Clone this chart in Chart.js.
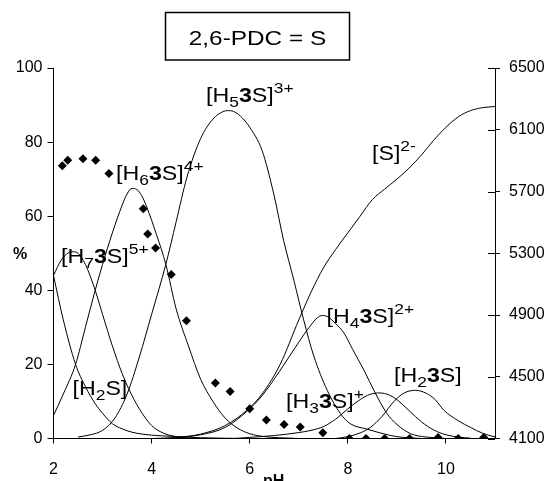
<!DOCTYPE html>
<html>
<head>
<meta charset="utf-8">
<script src="https://cdn.jsdelivr.net/npm/chart.js@4"></script>
<style>
  body { margin: 0; background: #fff; }
</style>
</head>
<body>
<canvas id="chart" width="549" height="481"></canvas>
<script>
// tick labels
const xTicks = [2, 4, 6, 8, 10];
const yTicks = [0, 20, 40, 60, 80, 100];
const y2Ticks = [4100, 4500, 4900, 5300, 5700, 6100, 6500];

// species distribution curves (% vs pH)
const h2sPH  = [2.0, 2.2, 2.45, 2.65, 2.85, 3.0, 3.2, 3.4, 3.6, 3.8, 4.0, 4.4, 5.0, 6.0];
const h2sPct = [44, 32, 20, 14, 9.4, 6.8, 4, 2.6, 1.7, 1.2, 0.9, 0.6, 0.2, 0];

const h7PH  = [2.0, 2.15, 2.3, 2.4, 2.5, 2.65, 2.85, 3.0, 3.2, 3.4, 3.53, 3.75, 4.0, 4.25, 4.5, 4.8, 5.5];
const h7Pct = [44, 48, 50.1, 50.4, 50, 47, 40, 33.5, 25, 17.5, 13.5, 8, 3.5, 1.4, 0.5, 0.1, 0];

const h6PH  = [2.0, 2.2, 2.45, 2.65, 2.85, 3.0, 3.2, 3.4, 3.5, 3.6, 3.7, 3.8, 3.9, 4.1, 4.29, 4.5, 4.75, 5.0, 5.25, 5.5, 5.75, 6.0, 6.3, 6.6, 7.0];
const h6Pct = [6.2, 12, 20, 30, 40, 47, 55.5, 63, 66, 67.5, 67.2, 65.5, 62.5, 55, 47, 35, 25, 16, 10, 5.5, 2.8, 1.3, 0.5, 0.2, 0];

const h5PH  = [2.5, 2.75, 3.0, 3.25, 3.5, 3.75, 4.0, 4.29, 4.5, 4.72, 5.0, 5.25, 5.45, 5.57, 5.7, 5.85, 6.0, 6.25, 6.49, 6.69, 6.9, 7.1, 7.3, 7.58, 7.85, 8.05, 8.4, 8.75, 9.0, 9.5];
const h5Pct = [0.4, 1, 2.2, 5.5, 12, 22, 33.5, 47, 58.5, 70.5, 81, 86.2, 88.2, 88.5, 88.1, 86.5, 84, 77.8, 66, 53.5, 42.7, 32, 22.5, 13, 6.7, 4, 2.5, 1.2, 0.5, 0];

const h4PH  = [4.5, 5.0, 5.5, 5.94, 6.25, 6.6, 7.0, 7.2, 7.38, 7.48, 7.6, 7.75, 7.92, 8.1, 8.33, 8.55, 8.8, 9.0, 9.28, 9.6, 10.0];
const h4Pct = [0.2, 1, 3, 7.3, 11.5, 18, 26, 29.8, 32.6, 33.2, 32.8, 31, 28.5, 24, 18.4, 12.5, 6.7, 3.8, 1.3, 0.4, 0];

const h3PH  = [5.7, 6.0, 6.5, 7.0, 7.25, 7.5, 7.75, 8.0, 8.25, 8.45, 8.65, 8.85, 9.0, 9.25, 9.5, 9.75, 10.0, 10.25, 10.5];
const h3Pct = [0, 0.3, 0.8, 1.6, 2.2, 3.2, 5.2, 8, 10.5, 11.9, 12.3, 11.7, 10.5, 7.5, 4.5, 2.3, 1, 0.4, 0.1];

const h2PH  = [7.75, 8.0, 8.25, 8.46, 8.7, 8.94, 9.15, 9.38, 9.6, 9.78, 9.96, 10.25, 10.5, 10.75, 11.0];
const h2Pct = [0, 0.5, 1.5, 3, 6, 10, 12.3, 13, 12.2, 10.5, 7.6, 4.8, 3, 1.4, 0.4];

const sPH  = [4.0, 4.5, 5.0, 5.5, 5.94, 6.25, 6.62, 7.0, 7.25, 7.5, 7.75, 8.0, 8.25, 8.5, 8.75, 9.0, 9.25, 9.5, 9.75, 10.0, 10.25, 10.5, 10.75, 11.0];
const sPct = [0, 0.3, 1.2, 3.5, 7.6, 12, 20, 32, 39.5, 46, 51, 55.5, 60, 64.5, 67.3, 70, 73, 76.5, 80.5, 84, 86.8, 88.5, 89.3, 89.6];

// measured points (right axis)
const expPH  = [2.18, 2.29, 2.60, 2.86, 3.13, 3.83, 3.92, 4.08, 4.40, 4.71, 5.30, 5.60, 6.00, 6.34, 6.70, 7.03, 7.49, 8.03, 8.37, 8.75, 9.26, 9.84, 10.25, 10.77];
const expVal = [5866, 5902, 5912, 5902, 5816, 5588, 5425, 5334, 5163, 4863, 4460, 4405, 4292, 4220, 4191, 4174, 4138, 4100, 4100, 4100, 4100, 4107, 4100, 4107];

function pts(xs, ys) {
    return xs.map((x, i) => ({x: x, y: ys[i]}));
}

function curve(xs, ys) {
    return {
        data: pts(xs, ys),
        showLine: true,
        borderColor: '#000',
        borderWidth: 1,
        pointRadius: 0,
        cubicInterpolationMode: 'monotone',
        yAxisID: 'y'
    };
}

const FONT = '"Liberation Sans", Arial, sans-serif';
const SX = 1.16;

// draws text pieces with sub/superscripts and bold parts
function drawRich(ctx, x, y, parts) {
    ctx.save();
    ctx.translate(x, y);
    ctx.scale(SX, 1);
    ctx.fillStyle = '#000';
    ctx.textBaseline = 'alphabetic';
    ctx.textAlign = 'left';
    let cx = 0;
    for (const p of parts) {
        let size = 20, dy = 0;
        if (p.sub) { size = 15; dy = 5; }
        if (p.sup) { size = 15; dy = -9; }
        ctx.font = (p.b ? 'bold ' : '') + size + 'px ' + FONT;
        ctx.fillText(p.t, cx, dy);
        cx += ctx.measureText(p.t).width;
    }
    ctx.restore();
}

const decor = {
    id: 'decor',
    afterDraw(chart) {
        const ctx = chart.ctx;
        // title box
        ctx.save();
        ctx.strokeStyle = '#000';
        ctx.lineWidth = 1.5;
        ctx.strokeRect(165.5, 12.5, 184, 47.5);
        ctx.restore();
        ctx.save();
        ctx.translate(257.5, 45);
        ctx.scale(SX, 1);
        ctx.font = '21px ' + FONT;
        ctx.textAlign = 'center';
        ctx.fillStyle = '#000';
        ctx.fillText('2,6-PDC = S', 0, 0);
        ctx.restore();

        // axis titles
        ctx.save();
        ctx.fillStyle = '#000';
        ctx.font = 'bold 16px ' + FONT;
        ctx.textAlign = 'center';
        ctx.fillText('%', 20, 259);
        ctx.textAlign = 'left';
        ctx.fillText('pH', 263, 486);
        ctx.restore();

        // right axis ticks cross the axis
        const y2 = chart.scales.y2;
        ctx.save();
        ctx.strokeStyle = '#000';
        ctx.lineWidth = 1;
        for (const v of y2Ticks) {
            const py = Math.round(y2.getPixelForValue(v)) + 0.5;
            ctx.beginPath();
            ctx.moveTo(y2.left - 7, py);
            ctx.lineTo(y2.left, py);
            ctx.stroke();
        }
        ctx.restore();

        // species labels
        drawRich(ctx, 206, 102, [{t: '[H'}, {t: '5', sub: 1}, {t: '3', b: 1}, {t: 'S]'}, {t: '3+', sup: 1}]);
        drawRich(ctx, 372, 160, [{t: '[S]'}, {t: '2-', sup: 1}]);
        drawRich(ctx, 116, 180, [{t: '[H'}, {t: '6', sub: 1}, {t: '3', b: 1}, {t: 'S]'}, {t: '4+', sup: 1}]);
        drawRich(ctx, 61, 263, [{t: '[H'}, {t: '7', sub: 1}, {t: '3', b: 1}, {t: 'S]'}, {t: '5+', sup: 1}]);
        drawRich(ctx, 72.5, 395, [{t: '[H'}, {t: '2', sub: 1}, {t: 'S]'}]);
        drawRich(ctx, 326.5, 323, [{t: '[H'}, {t: '4', sub: 1}, {t: '3', b: 1}, {t: 'S]'}, {t: '2+', sup: 1}]);
        drawRich(ctx, 286, 408, [{t: '[H'}, {t: '3', sub: 1}, {t: '3', b: 1}, {t: 'S]'}, {t: '+', sup: 1}]);
        drawRich(ctx, 394, 382, [{t: '[H'}, {t: '2', sub: 1}, {t: '3', b: 1}, {t: 'S]'}]);
    }
};

function setTicks(list) {
    return function (scale) {
        scale.ticks = list.map(v => ({value: v}));
    };
}

const tickFont = {family: FONT, size: 16};
const plain = v => String(v);

const ctx = document.getElementById('chart').getContext('2d');
const chart = new Chart(ctx, {
    type: 'scatter',
    data: {
        datasets: [
            curve(h2sPH, h2sPct),
            curve(h7PH, h7Pct),
            curve(h6PH, h6Pct),
            curve(h5PH, h5Pct),
            curve(h4PH, h4Pct),
            curve(h3PH, h3Pct),
            curve(h2PH, h2Pct),
            curve(sPH, sPct),
            {
                data: pts(expPH, expVal),
                showLine: false,
                pointStyle: 'rectRot',
                pointRadius: 4.5,
                pointBackgroundColor: '#000',
                pointBorderColor: '#000',
                pointBorderWidth: 0,
                yAxisID: 'y2'
            }
        ]
    },
    options: {
        responsive: false,
        animation: false,
        devicePixelRatio: 1,
        layout: {padding: {top: 68, left: 0, right: 0, bottom: 0}},
        plugins: {
            legend: {display: false},
            tooltip: {enabled: false}
        },
        scales: {
            x: {
                type: 'linear',
                min: 2,
                max: 11,
                afterBuildTicks: setTicks(xTicks),
                afterFit: s => { s.height = 42.5; },
                ticks: {font: tickFont, color: '#000', padding: 16, maxRotation: 0, callback: plain},
                grid: {drawOnChartArea: false, drawTicks: true, tickLength: 5, color: '#000'},
                border: {display: true, color: '#000', width: 1}
            },
            y: {
                position: 'left',
                min: 0,
                max: 100,
                afterBuildTicks: setTicks(yTicks),
                afterFit: s => { s.width = 53.5; },
                ticks: {font: tickFont, color: '#000', padding: 5, callback: plain},
                grid: {drawOnChartArea: false, drawTicks: true, tickLength: 6, color: '#000'},
                border: {display: true, color: '#000', width: 1}
            },
            y2: {
                position: 'right',
                min: 4100,
                max: 6500,
                afterBuildTicks: setTicks(y2Ticks),
                afterFit: s => { s.width = 54; },
                ticks: {font: tickFont, color: '#000', padding: 9, callback: plain},
                grid: {drawOnChartArea: false, drawTicks: true, tickLength: 5, color: '#000'},
                border: {display: true, color: '#000', width: 1}
            }
        }
    },
    plugins: [decor]
});
</script>
</body>
</html>
